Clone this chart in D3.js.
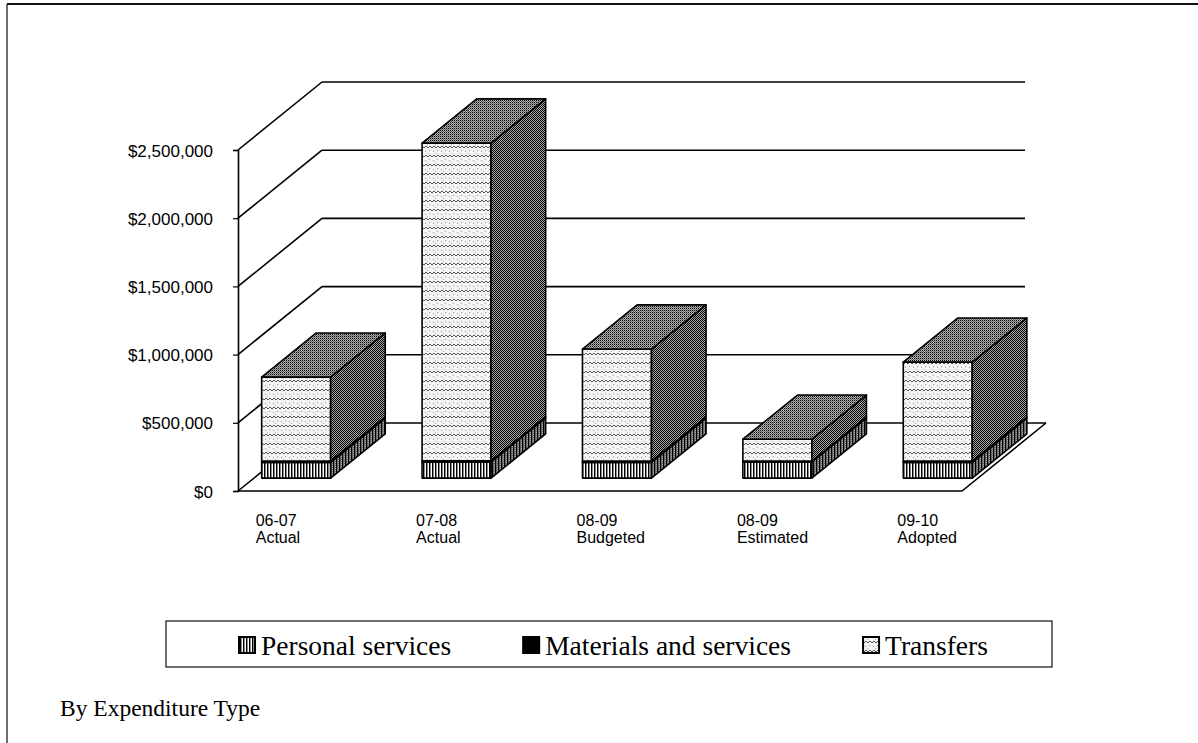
<!DOCTYPE html>
<html>
<head>
<meta charset="utf-8">
<script src="https://cdn.jsdelivr.net/npm/d3@7"></script>
<style>
  body { margin: 0; background: #fff; }
  svg { display: block; }
</style>
</head>
<body>
<div id="chart"></div>
<script>
// chart data
var categories = ["06-07 Actual", "07-08 Actual", "08-09 Budgeted", "08-09 Estimated", "09-10 Adopted"];
var seriesNames = ["Personal services", "Materials and services", "Transfers"];
var personal  = [115000, 118000, 115000, 118000, 115000];
var materials = [9000, 8000, 9000, 7000, 9000];
var transfers = [616000, 2330000, 822000, 160000, 726000];
var yTicks = [0, 500000, 1000000, 1500000, 2000000, 2500000];

var W = 1198, H = 743;
var DX = 84, DY = 68;          // full depth of the 3d box
var z0 = 0.19, z1 = 0.84;      // depth occupied by the bars
var axisX = 238, wallEnd = 1025, floorEnd = 962;

var svg = d3.select("#chart").append("svg")
    .attr("width", W)
    .attr("height", H);

var defs = svg.append("defs");

// fill patterns, like the old print hatches
function pattern(id, w, h) {
  return defs.append("pattern")
    .attr("id", id)
    .attr("patternUnits", "userSpaceOnUse")
    .attr("width", w)
    .attr("height", h);
}
var p = pattern("psFront", 3, 4);
p.append("rect").attr("width", 3).attr("height", 4).attr("fill", "#fff");
p.append("rect").attr("width", 1).attr("height", 4).attr("fill", "#000");
p.append("rect").attr("x", 1).attr("width", 1).attr("height", 4).attr("fill", "#8a8a8a");

p = pattern("trFront", 8, 9);
p.append("rect").attr("width", 8).attr("height", 9).attr("fill", "#f4f4f4");
p.append("path").attr("d", "M0,4 L2,2 L4,4 L6,2 L8,4").attr("fill", "none").attr("stroke", "#555").attr("stroke-width", 1);
p.append("rect").attr("x", 1).attr("y", 7).attr("width", 1).attr("height", 1).attr("fill", "#999");
p.append("rect").attr("x", 5).attr("y", 6).attr("width", 1).attr("height", 1).attr("fill", "#999");
p.append("rect").attr("x", 3).attr("y", 0).attr("width", 1).attr("height", 1).attr("fill", "#aaa");

p = pattern("side", 2, 2);
p.append("rect").attr("width", 2).attr("height", 2).attr("fill", "#a8a8a8");
p.append("rect").attr("width", 1).attr("height", 1).attr("fill", "#000");
p.append("rect").attr("x", 1).attr("y", 1).attr("width", 1).attr("height", 1).attr("fill", "#000");

p = pattern("psSide", 3, 2);
p.append("rect").attr("width", 3).attr("height", 2).attr("fill", "#666");
p.append("rect").attr("width", 1).attr("height", 2).attr("fill", "#000");
p.append("rect").attr("x", 2).attr("width", 1).attr("height", 1).attr("fill", "#aaa");

p = pattern("top", 2, 2);
p.append("rect").attr("width", 2).attr("height", 2).attr("fill", "#b0b0b0");
p.append("rect").attr("width", 1).attr("height", 1).attr("fill", "#000");
p.append("rect").attr("x", 1).attr("y", 1).attr("width", 1).attr("height", 1).attr("fill", "#666");

var frontFill = ["url(#psFront)", "#000", "url(#trFront)"];
var sideFill = ["url(#psSide)", "#000", "url(#side)"];

// page frame (scanned box edges)
svg.append("line").attr("x1", 7).attr("y1", 4).attr("x2", W).attr("y2", 4)
  .attr("stroke", "#111").attr("stroke-width", 2);
svg.append("line").attr("x1", 7).attr("y1", 4).attr("x2", 7).attr("y2", H)
  .attr("stroke", "#222").attr("stroke-width", 1.3);

var y = d3.scaleLinear().domain([0, 2500000]).range([491, 150]);
var x = d3.scaleBand().domain(categories).range([200, 1002])
    .paddingInner(0.57).paddingOuter(0.285);

function P(px, v, z) { return [px + DX * z, y(v) - DY * z]; }

// walls and gridlines
var grid = svg.append("g").attr("stroke", "#000").attr("stroke-width", 1.6).attr("fill", "none");
yTicks.forEach(function (v) {
  var a = P(axisX, v, 0), b = P(axisX, v, 1);
  grid.append("line").attr("x1", a[0]).attr("y1", a[1]).attr("x2", b[0]).attr("y2", b[1]);
  grid.append("line").attr("x1", b[0]).attr("y1", b[1])
    .attr("x2", v === 0 ? floorEnd + DX : wallEnd).attr("y2", b[1]);
});
// floor front and right edges
var f0 = P(axisX, 0, 0), f1 = P(floorEnd, 0, 0), f2 = P(floorEnd, 0, 1);
grid.append("path").attr("d", d3.line()([f0, f1, f2]));

// y axis
var yAxis = d3.axisLeft(y).tickValues(yTicks).tickFormat(d3.format("$,")).tickSize(5).tickPadding(20);
var ga = svg.append("g").attr("transform", "translate(" + axisX + ",0)").call(yAxis);
ga.select(".domain").attr("stroke", "#000").attr("stroke-width", 1.6);
ga.selectAll(".tick line").attr("stroke", "#000").attr("stroke-width", 1.2);
ga.selectAll("text").attr("font-family", "Liberation Sans, Arial, sans-serif")
  .attr("font-size", 17).attr("fill", "#000").attr("dy", "0.36em");

// stacked segments
var stack = categories.map(function (c, i) {
  var vals = [personal[i], materials[i], transfers[i]];
  var acc = 0;
  return vals.map(function (v, s) {
    var seg = { cat: c, s: s, v0: acc, v1: acc + v, last: s === vals.length - 1 };
    acc += v;
    return seg;
  });
});

var bars = svg.selectAll(".bar")
  .data(stack)
  .enter().append("g")
  .attr("class", "bar")
  .attr("stroke", "#000")
  .attr("stroke-width", 1.6)
  .attr("stroke-linejoin", "round");

var line = d3.line();
bars.each(function (segs) {
  var g = d3.select(this);
  segs.forEach(function (d) {
    var xl = x(d.cat), xr = xl + x.bandwidth();
    g.append("path").attr("fill", frontFill[d.s])
      .attr("d", line([P(xl, d.v0, z0), P(xr, d.v0, z0), P(xr, d.v1, z0), P(xl, d.v1, z0)]) + "Z");
    g.append("path").attr("fill", sideFill[d.s])
      .attr("d", line([P(xr, d.v0, z0), P(xr, d.v0, z1), P(xr, d.v1, z1), P(xr, d.v1, z0)]) + "Z");
    if (d.last) {
      g.append("path").attr("fill", "url(#top)")
        .attr("d", line([P(xl, d.v1, z0), P(xr, d.v1, z0), P(xr, d.v1, z1), P(xl, d.v1, z1)]) + "Z");
    }
  });
});

// category labels, two lines, left aligned
var labels = svg.selectAll(".cat")
  .data(categories)
  .enter().append("text")
  .attr("class", "cat")
  .attr("font-family", "Liberation Sans, Arial, sans-serif")
  .attr("font-size", 16)
  .attr("fill", "#000");
labels.each(function (c) {
  var t = d3.select(this), parts = c.split(" ");
  var lx = x(c) + 10;
  t.append("tspan").attr("x", lx).attr("y", 526).text(parts[0]);
  t.append("tspan").attr("x", lx).attr("y", 543).text(parts[1]);
});

// legend
svg.append("rect").attr("x", 166).attr("y", 621).attr("width", 886).attr("height", 46)
  .attr("fill", "none").attr("stroke", "#222").attr("stroke-width", 1.3);
var lx = 239;
seriesNames.forEach(function (name, s) {
  svg.append("rect").attr("x", lx).attr("y", 637).attr("width", 16).attr("height", 16)
    .attr("fill", frontFill[s]).attr("stroke", "#000").attr("stroke-width", 2);
  var t = svg.append("text").attr("x", lx + 22).attr("y", 655)
    .attr("font-family", "Liberation Serif, Times New Roman, serif")
    .attr("font-size", 27.5).attr("fill", "#000").text(name);
  lx += 22 + t.node().getComputedTextLength() + 72;
});

svg.append("text").attr("x", 60).attr("y", 716)
  .attr("font-family", "Liberation Serif, Times New Roman, serif")
  .attr("font-size", 23.5).attr("fill", "#000").text("By Expenditure Type");
</script>
</body>
</html>
